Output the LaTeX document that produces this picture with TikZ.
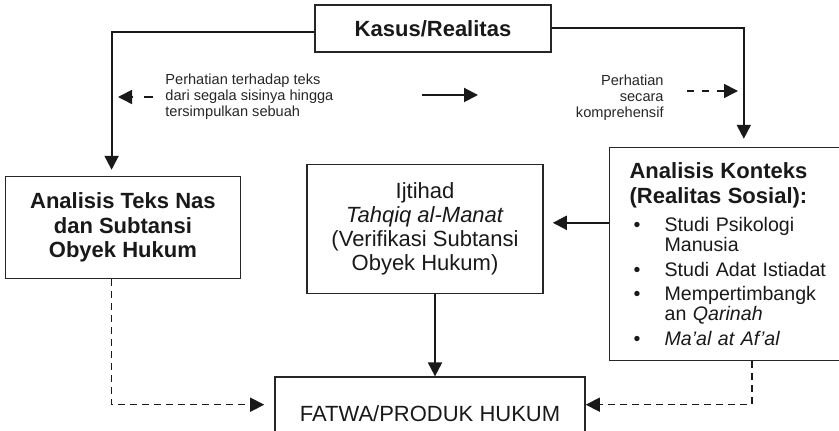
\documentclass[tikz,border=0pt]{standalone}
\usepackage{fontspec}
\setmainfont{Liberation Sans}
\usetikzlibrary{arrows.meta, positioning}

\begin{document}
\begin{tikzpicture}[
    x=0.5pt, y=-0.5pt,
    node distance=0.35cm,
    box/.style={rectangle, draw=black!85, line width=0.8pt, inner sep=0pt, align=center, text=black!90},
    note/.style={inner sep=0pt, align=left, text=black!85, font=\fontsize{7.3}{8}\selectfont},
    arr/.style={-{Triangle[length=7pt,width=7pt]}, draw=black!90, line width=1pt},
    darr/.style={arr, line width=0.8pt, dash pattern=on 3.5pt off 2.5pt}
  ]
    \useasboundingbox (0,0) rectangle (839,431);
    \node[box, minimum width=118pt, minimum height=23.5pt, font=\fontsize{11}{13}\selectfont\bfseries] (kasus) at (433,28.5) {Kasus/Realitas};
    \node[box, below left=61.5pt and 36.5pt of kasus, minimum width=117.5pt, minimum height=51pt, font=\fontsize{11}{12.25}\selectfont\bfseries] (teks) {Analisis Teks Nas\\dan Subtansi\\Obyek Hukum};
    \node[box, below=55.5pt of kasus, xshift=-4pt, minimum width=118pt, minimum height=64.5pt, font=\fontsize{11}{12}\selectfont] (ijtihad) {Ijtihad\\\textit{Tahqiq al-Manat}\\(Verifikasi Subtansi\\Obyek Hukum)};
    \node[box, below right=47pt and 28.5pt of kasus, align=left, text width=130pt, inner xsep=10pt, minimum height=106.5pt, font=\fontsize{9.8}{10}\selectfont] (konteks) {%
      {\fontsize{11}{10}\selectfont\bfseries Analisis Konteks\\[2.5pt](Realitas Sosial):}\\[4pt]
      \makebox[17.5pt][l]{\hspace{2pt}\textbullet}Studi Psikologi\\
      \hspace*{17.5pt}Manusia\\[2.5pt]
      \makebox[17.5pt][l]{\hspace{2pt}\textbullet}Studi Adat Istiadat\\[2pt]
      \makebox[17.5pt][l]{\hspace{2pt}\textbullet}Mempertimbangk\\
      \hspace*{17.5pt}an \textit{Qarinah}\\[2.5pt]
      \makebox[17.5pt][l]{\hspace{2pt}\textbullet}\textit{Ma’al at Af’al}};
    \node[box, below=41pt of ijtihad, xshift=2.5pt, minimum width=155pt, text height=22pt, text depth=5.5pt, font=\fontsize{11}{13}\selectfont] (fatwa) {FATWA/PRODUK HUKUM};
    % keterangan
    \node[note, anchor=west] (perhatianteks) at (165,96.5) {Perhatian terhadap teks\\dari segala sisinya hingga\\tersimpulkan sebuah};
    \node[note, anchor=east, align=right] (perhatiankonteks) at (664,98) {Perhatian\\secara\\komprehensif};
    \coordinate (ta) at (153,97);
    \coordinate (tb) at (118,97);
    \coordinate (ma) at (422,95);
    \coordinate (mb) at (478,95);
    \coordinate (ka) at (687,91);
    \coordinate (kb) at (738,91);
    \draw[arr] ([yshift=-2pt]kasus.west) -| ([xshift=53.5pt]teks.north west) [shorten >=3pt];
    \draw[arr, shorten >=4pt] (kasus.east) -| ([xshift=67.5pt]konteks.north west);
    \draw[arr, shorten >=4.5pt] ([yshift=-38pt]konteks.north west) -- ([yshift=-38pt]konteks.north west -| ijtihad.east);
    \draw[arr] ([xshift=5pt]ijtihad.south) -- ([xshift=5pt]ijtihad.south |- fatwa.north);
    \draw[darr, shorten >=5pt] ([xshift=53.5pt]teks.south west) |- (fatwa.west);
    \draw[darr] ([xshift=71.5pt]konteks.south west) |- (fatwa.east);
    \draw[darr, dash pattern=on 4.5pt off 6pt] (ta) -- (tb);
    \draw[arr] (ma) -- (mb);
    \draw[darr, dash pattern=on 3.3pt off 4.2pt] (ka) -- (kb);
\end{tikzpicture}
\end{document}
